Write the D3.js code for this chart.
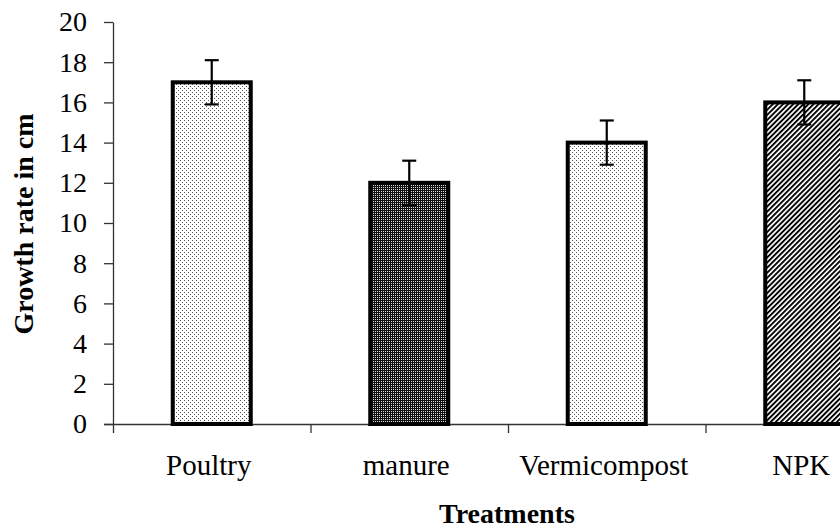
<!DOCTYPE html>
<html lang="en">
<head>
  <meta charset="UTF-8">
  <title>Growth rate by treatment</title>
  <script src="https://d3js.org/d3.v7.min.js"></script>
  <style>
    body { margin: 0; background: #fff; }
    svg { display: block; font-family: "Liberation Serif", "Times New Roman", serif; }
  </style>
</head>
<body>
<div id="chart"></div>
<script>
// chart values
const categories = ["Poultry", "manure", "Vermicompost", "NPK"];
const growth = [17, 12, 14, 16];
const errors = [1.1, 1.1, 1.1, 1.1];
const yTicks = [0, 2, 4, 6, 8, 10, 12, 14, 16, 18, 20];
const fills = ["dots", "dense", "dots", "stripes"];

const width = 840, height = 531;

const svg = d3.select("#chart")
  .append("svg")
  .attr("width", width)
  .attr("height", height);

// fill patterns like the old excel ones
const defs = svg.append("defs");

const dots = defs.append("pattern")
  .attr("id", "dots")
  .attr("patternUnits", "userSpaceOnUse")
  .attr("width", 4).attr("height", 4);
dots.append("rect").attr("width", 4).attr("height", 4).attr("fill", "#fff");
dots.append("rect").attr("x", 0).attr("y", 0).attr("width", 1).attr("height", 1).attr("fill", "#555");
dots.append("rect").attr("x", 2).attr("y", 2).attr("width", 1).attr("height", 1).attr("fill", "#555");

const dense = defs.append("pattern")
  .attr("id", "dense")
  .attr("patternUnits", "userSpaceOnUse")
  .attr("width", 2).attr("height", 2);
dense.append("rect").attr("width", 2).attr("height", 2).attr("fill", "#111");
dense.append("rect").attr("x", 1).attr("y", 1).attr("width", 1).attr("height", 1).attr("fill", "#ddd");

const stripes = defs.append("pattern")
  .attr("id", "stripes")
  .attr("patternUnits", "userSpaceOnUse")
  .attr("width", 3.6).attr("height", 3.6)
  .attr("patternTransform", "rotate(45)");
stripes.append("rect").attr("width", 3.6).attr("height", 3.6).attr("fill", "#fff");
stripes.append("rect").attr("width", 1.9).attr("height", 3.6).attr("fill", "#000");

// scales
const x = d3.scaleBand()
  .domain(categories)
  .range([113, 903])
  .padding(0);

const xEdge = d3.scaleLinear()
  .domain([0, categories.length])
  .range([113, 903]);

const y = d3.scaleLinear()
  .domain([0, 20])
  .range([424, 22]);

const barW = x.bandwidth() * 0.395;

// y axis
const yAxis = svg.append("g")
  .attr("transform", "translate(113,0)")
  .call(d3.axisLeft(y).tickValues(yTicks).tickSize(9).tickSizeOuter(0).tickPadding(17));
yAxis.selectAll("text")
  .style("font-family", "'Liberation Serif', 'Times New Roman', serif")
  .style("font-size", "28px")
  .attr("fill", "#000");
yAxis.selectAll("line, path").attr("stroke", "#333").attr("stroke-width", 1.3);

// x axis, ticks sit between categories
const xAxis = svg.append("g")
  .attr("transform", "translate(0,424)")
  .call(d3.axisBottom(xEdge).tickValues(d3.range(categories.length + 1)).tickFormat("").tickSize(9).tickSizeOuter(0));
xAxis.selectAll("line, path").attr("stroke", "#333").attr("stroke-width", 1.3);
xAxis.select("path").attr("d", "M104,0.5H903");

// category labels
svg.append("g")
  .selectAll("text")
  .data(categories)
  .join("text")
  .attr("x", d => x(d) + x.bandwidth() / 2 - 3)
  .attr("y", 475)
  .attr("text-anchor", "middle")
  .style("font-size", "29px")
  .text(d => d);

// bars
svg.append("g")
  .selectAll("rect")
  .data(categories)
  .join("rect")
  .attr("x", d => x(d) + (x.bandwidth() - barW) / 2)
  .attr("y", (d, i) => y(growth[i]))
  .attr("width", barW)
  .attr("height", (d, i) => y(0) - y(growth[i]))
  .attr("fill", (d, i) => `url(#${fills[i]})`)
  .attr("stroke", "#000")
  .attr("stroke-width", 4);

// error bars
const err = svg.append("g")
  .selectAll("g")
  .data(categories)
  .join("g")
  .attr("stroke", "#000")
  .attr("stroke-width", 2.2);

err.append("line")
  .attr("x1", d => x(d) + x.bandwidth() / 2)
  .attr("x2", d => x(d) + x.bandwidth() / 2)
  .attr("y1", (d, i) => y(growth[i] + errors[i]))
  .attr("y2", (d, i) => y(growth[i] - errors[i]));

err.append("line")
  .attr("x1", d => x(d) + x.bandwidth() / 2 - 7)
  .attr("x2", d => x(d) + x.bandwidth() / 2 + 7)
  .attr("y1", (d, i) => y(growth[i] + errors[i]))
  .attr("y2", (d, i) => y(growth[i] + errors[i]));

err.append("line")
  .attr("x1", d => x(d) + x.bandwidth() / 2 - 7)
  .attr("x2", d => x(d) + x.bandwidth() / 2 + 7)
  .attr("y1", (d, i) => y(growth[i] - errors[i]))
  .attr("y2", (d, i) => y(growth[i] - errors[i]));

// axis titles
svg.append("text")
  .attr("transform", "translate(33,224) rotate(-90)")
  .attr("text-anchor", "middle")
  .style("font-size", "28px")
  .style("font-weight", "bold")
  .text("Growth rate in cm");

svg.append("text")
  .attr("x", 507)
  .attr("y", 523)
  .attr("text-anchor", "middle")
  .style("font-size", "28px")
  .style("font-weight", "bold")
  .text("Treatments");
</script>
</body>
</html>
